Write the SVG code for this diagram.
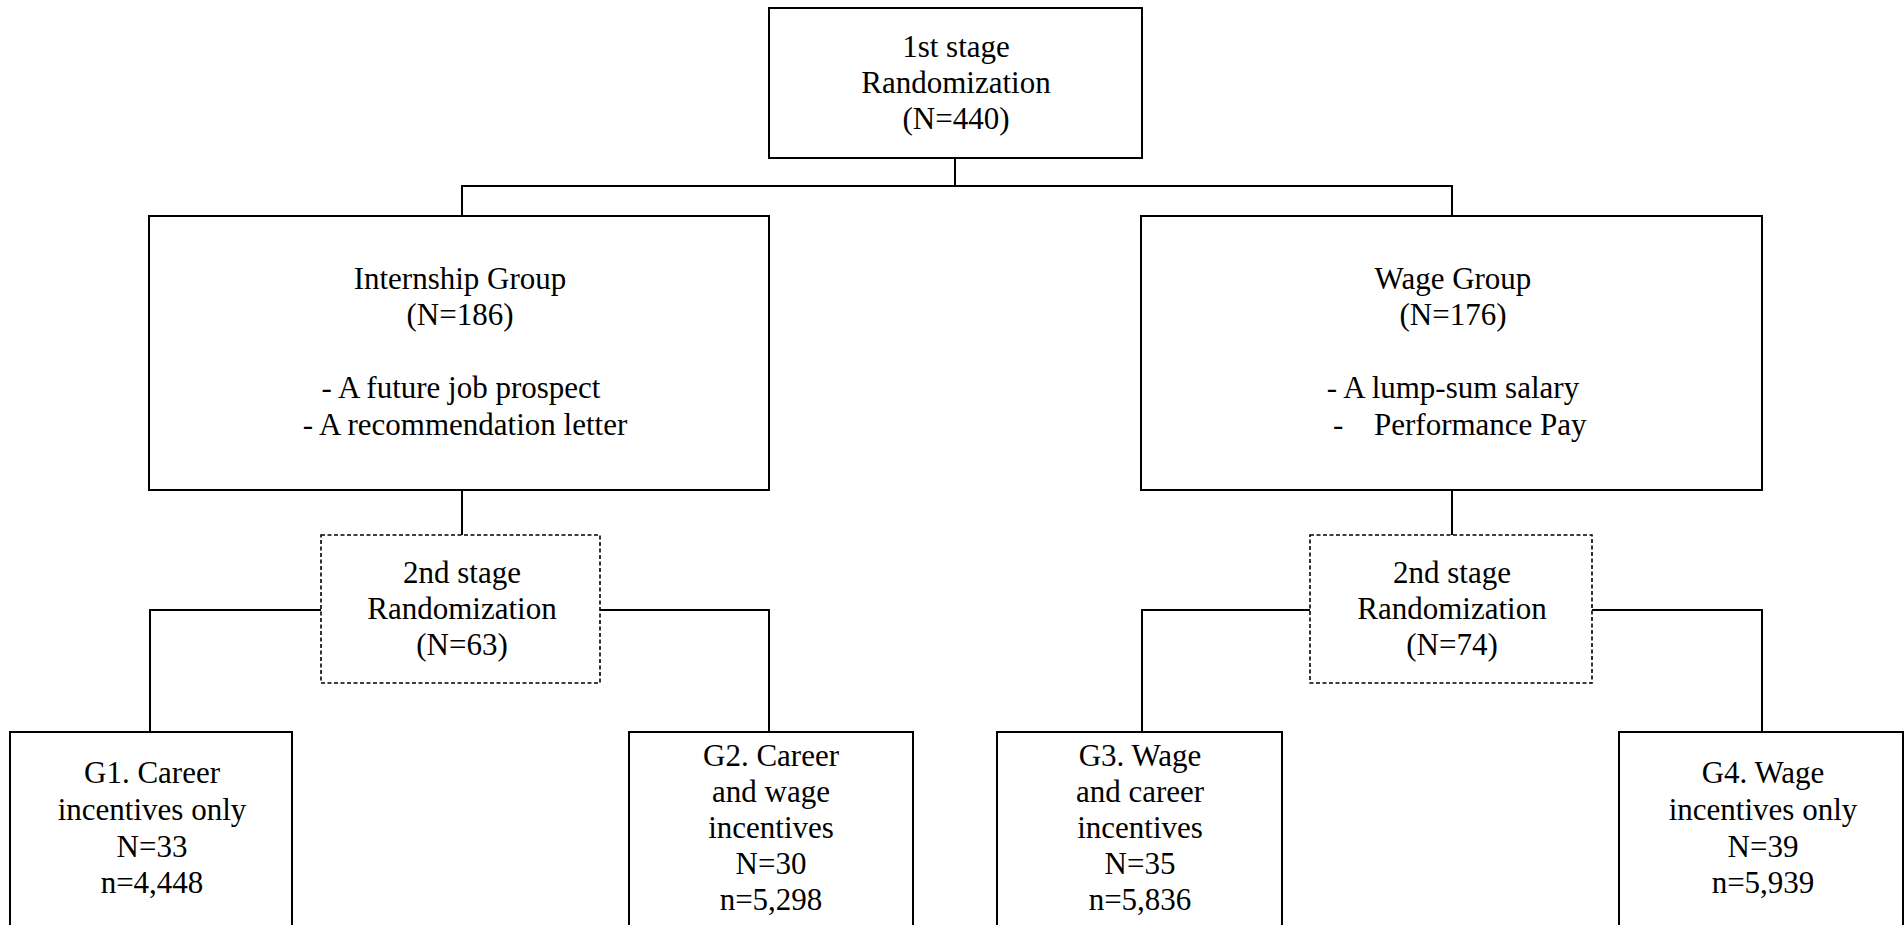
<svg xmlns="http://www.w3.org/2000/svg" width="1904" height="925" viewBox="0 0 1904 925">
<style>
  .box { fill: #ffffff; stroke: #000000; stroke-width: 2; }
  .dbox { fill: #ffffff; stroke: #000000; stroke-width: 1.6; stroke-dasharray: 4 2.5; }
  .conn { fill: none; stroke: #000000; stroke-width: 2; }
  .t { font-family: 'Liberation Serif', 'Times New Roman', Times, serif; font-size: 31px; fill: #000000; text-anchor: middle; }
  .l { text-anchor: start; }
</style>
<rect x="0" y="0" width="1904" height="925" fill="#ffffff"/>
<g id="connectors">
  <path class="conn" d="M955,158 V186"/>
  <path class="conn" d="M462,216 V186 H1452 V216"/>
  <path class="conn" d="M462,490 V535"/>
  <path class="conn" d="M1452,490 V535"/>
  <path class="conn" d="M321,610 H150 V732"/>
  <path class="conn" d="M600,610 H769 V732"/>
  <path class="conn" d="M1310,610 H1142 V732"/>
  <path class="conn" d="M1592,610 H1762 V732"/>
</g>
<g id="stage1">
  <rect class="box" x="769" y="8" width="373" height="150"/>
  <g class="t">
    <text x="956" y="57">1st stage</text>
    <text x="956" y="93">Randomization</text>
    <text x="956" y="129">(N=440)</text>
  </g>
</g>
<g id="internship">
  <rect class="box" x="149" y="216" width="620" height="274"/>
  <g class="t">
    <text x="460" y="289">Internship  Group</text>
    <text x="460" y="325">(N=186)</text>
    <text x="461" y="398">- A future  job prospect</text>
    <text x="465" y="435">- A recommendation  letter</text>
  </g>
</g>
<g id="wage">
  <rect class="box" x="1141" y="216" width="621" height="274"/>
  <g class="t">
    <text x="1453" y="289">Wage Group</text>
    <text x="1453" y="325">(N=176)</text>
    <text x="1453" y="398">- A lump-sum  salary</text>
    <text class="l" x="1333" y="435">-</text>
    <text class="l" x="1374" y="435">Performance  Pay</text>
  </g>
</g>
<g id="stage2-internship">
  <rect class="dbox" x="321" y="535" width="279" height="148"/>
  <g class="t">
    <text x="462" y="583">2nd stage</text>
    <text x="462" y="619">Randomization</text>
    <text x="462" y="655">(N=63)</text>
  </g>
</g>
<g id="stage2-wage">
  <rect class="dbox" x="1310" y="535" width="282" height="148"/>
  <g class="t">
    <text x="1452" y="583">2nd stage</text>
    <text x="1452" y="619">Randomization</text>
    <text x="1452" y="655">(N=74)</text>
  </g>
</g>
<g id="g1">
  <rect class="box" x="10" y="732" width="282" height="220"/>
  <g class="t">
    <text x="152" y="783">G1. Career</text>
    <text x="152" y="820">incentives  only</text>
    <text x="152" y="857">N=33</text>
    <text x="152" y="893">n=4,448</text>
  </g>
</g>
<g id="g2">
  <rect class="box" x="629" y="732" width="284" height="220"/>
  <g class="t">
    <text x="771" y="766">G2. Career</text>
    <text x="771" y="802">and wage</text>
    <text x="771" y="838">incentives</text>
    <text x="771" y="874">N=30</text>
    <text x="771" y="910">n=5,298</text>
  </g>
</g>
<g id="g3">
  <rect class="box" x="997" y="732" width="285" height="220"/>
  <g class="t">
    <text x="1140" y="766">G3. Wage</text>
    <text x="1140" y="802">and career</text>
    <text x="1140" y="838">incentives</text>
    <text x="1140" y="874">N=35</text>
    <text x="1140" y="910">n=5,836</text>
  </g>
</g>
<g id="g4">
  <rect class="box" x="1619" y="732" width="284" height="220"/>
  <g class="t">
    <text x="1763" y="783">G4. Wage</text>
    <text x="1763" y="820">incentives  only</text>
    <text x="1763" y="857">N=39</text>
    <text x="1763" y="893">n=5,939</text>
  </g>
</g>
</svg>
